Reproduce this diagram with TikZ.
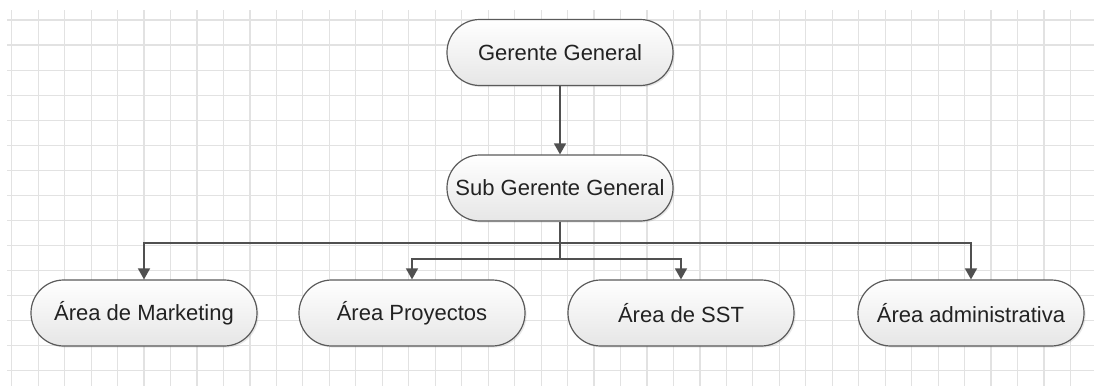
\documentclass[tikz,border=0pt]{standalone}
\usepackage{fontspec}
\setmainfont{Liberation Sans}
\usetikzlibrary{arrows.meta,positioning,shadows}
\definecolor{ink}{HTML}{222222}
\definecolor{wire}{HTML}{505050}
\definecolor{edge}{HTML}{5A5A5A}
\definecolor{paper}{HTML}{E2E2E2}
\definecolor{fog}{HTML}{E6E6E6}
\tikzset{
  pill/.style={draw=edge,line width=0.6pt,rounded corners=16.4pt,
    minimum width=113pt,minimum height=33pt,inner sep=0pt,
    top color=white,bottom color=fog,text=ink,
    font=\fontsize{11}{13}\selectfont,
    drop shadow={opacity=0.18,shadow xshift=0.8pt,shadow yshift=-0.8pt}},
  link/.style={wire,line width=0.75pt},
  arr/.style={link,-{Triangle[length=5.5pt,width=6pt]}},
  gridline/.style={paper,line width=0.6pt}
}

\begin{document}
\begin{tikzpicture}[x=0.5pt,y=-0.5pt]
\useasboundingbox (0,0) rectangle (1094,386);
% background grid
\foreach \i in {0,...,40}
  \draw[gridline] ({11.7+26.47*\i},10) -- ({11.7+26.47*\i},386);
\foreach \j in {0,...,14}
  \draw[gridline] (7,{20+25.05*\j}) -- (1094,{20+25.05*\j});
% boxes
\node[pill] (gg) at (560,52.5) {Gerente General};
\node[pill] (sgg) at (560,188) {Sub Gerente General};
\node[pill] (mkt) at (144,313) {Área de Marketing};
\node[pill] (pro) at (412,313) {Área Proyectos};
\node[pill] (sst) at (681,313) {Área de SST};
\node[pill] (adm) at (971,313) {Área administrativa};
% connectors
\coordinate (busA) at (560,243);
\coordinate (busB) at (560,259);
\draw[arr] (gg) -- (sgg);
\draw[link] (sgg.south) -- (busB);
\draw[arr] (busA) -| (mkt.north);
\draw[arr] (busA) -| (adm.north);
\draw[arr] (busB) -| (pro.north);
\draw[arr] (busB) -| (sst.north);
\end{tikzpicture}
\end{document}
